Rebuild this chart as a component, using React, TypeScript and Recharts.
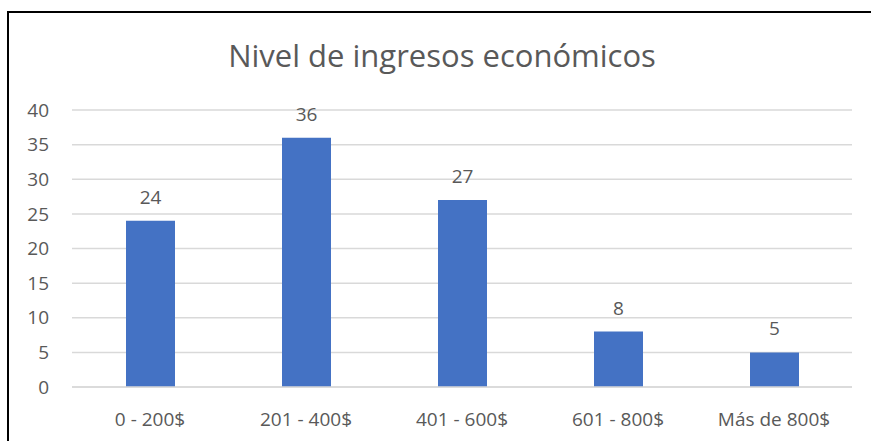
import { BarChart, Bar, XAxis, YAxis, CartesianGrid, LabelList } from 'recharts';

const categories = ['0 - 200$', '201 - 400$', '401 - 600$', '601 - 800$', 'Más de 800$'];
const counts = [24, 36, 27, 8, 5];
const yTicks = [0, 5, 10, 15, 20, 25, 30, 35, 40];

const data = categories.map((name, i) => ({ name, value: counts[i] }));

const font = "'Open Sans', sans-serif";
const textColor = '#595959';

const App = () => {
  return (
    <div style={{ position: 'absolute', left: 0, top: 0, width: 871, height: 441, overflow: 'hidden', background: '#fff' }}>
      <div
        style={{
          position: 'absolute',
          left: 7,
          top: 11,
          width: 900,
          height: 500,
          borderLeft: '2px solid #000',
          borderTop: '2px solid #000',
        }}
      />
      <div
        style={{
          position: 'absolute',
          left: 0,
          top: 34,
          width: 884,
          textAlign: 'center',
          fontFamily: font,
          fontSize: 31,
          color: textColor,
          lineHeight: '42px',
        }}
      >
        Nivel de ingresos económicos
      </div>
      <div style={{ position: 'absolute', left: 0, top: 0 }}>
        <BarChart width={871} height={441} data={data} margin={{ top: 110, right: 19, bottom: 0, left: 0 }}>
          <CartesianGrid vertical={false} stroke="#D9D9D9" strokeWidth={1.5} />
          <XAxis
            dataKey="name"
            height={54}
            tickLine={false}
            axisLine={{ stroke: '#D9D9D9', strokeWidth: 1.5 }}
            tickMargin={20}
            tick={{ fill: textColor, fontSize: 19, fontFamily: font }}
            interval={0}
          />
          <YAxis
            width={72}
            domain={[0, 40]}
            ticks={yTicks}
            tickLine={false}
            axisLine={false}
            tickMargin={17}
            tick={{ fill: textColor, fontSize: 19, fontFamily: font }}
          />
          <Bar dataKey="value" fill="#4472C4" barSize={49} isAnimationActive={false}>
            <LabelList dataKey="value" position="top" offset={17} fill={textColor} fontSize={19} fontFamily={font} />
          </Bar>
        </BarChart>
      </div>
    </div>
  );
};

export default App;
